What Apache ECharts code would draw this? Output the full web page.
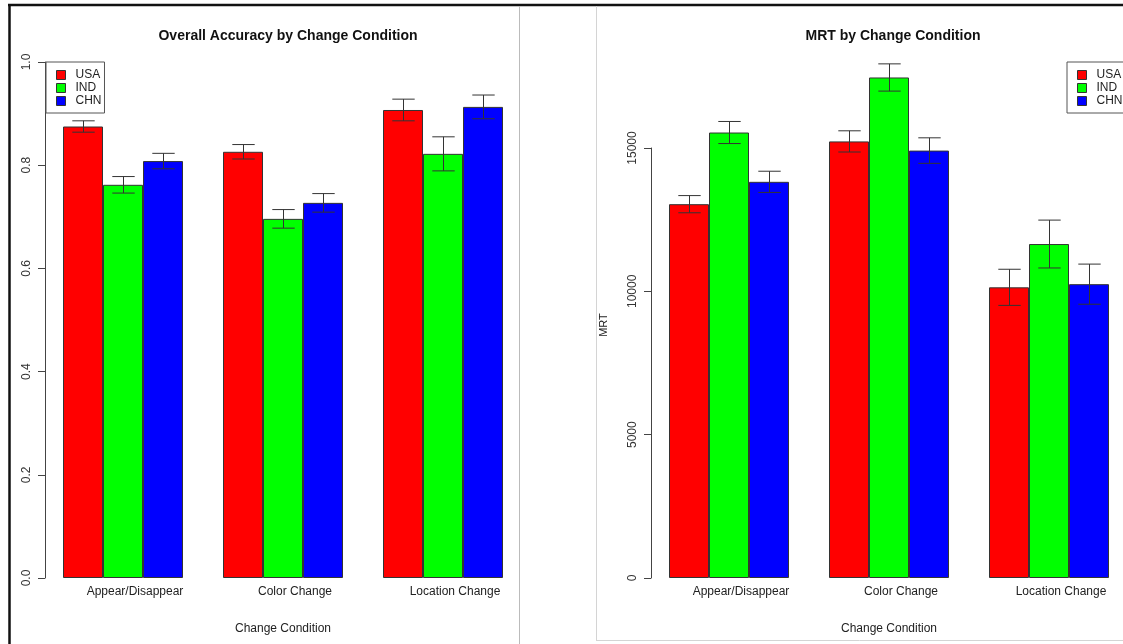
<!DOCTYPE html>
<html>
<head>
<meta charset="utf-8">
<script src="https://cdn.jsdelivr.net/npm/echarts@6/dist/echarts.min.js"></script>
<style>
	html, body { margin: 0; padding: 0; background: #fff; }
	#chart { width: 1123px; height: 644px; }
</style>
</head>
<body>
<div id="chart"></div>
<script>
var categories = ['Appear/Disappear', 'Color Change', 'Location Change'];
var countries  = ['USA', 'IND', 'CHN'];
var colors     = ['#FF0000', '#00FF00', '#0000FF'];

// Overall accuracy (mean, +/- error)
var accUSA    = [0.875, 0.826, 0.907];
var accIND    = [0.762, 0.696, 0.822];
var accCHN    = [0.808, 0.727, 0.913];
var accErrUSA = [0.011, 0.014, 0.021];
var accErrIND = [0.016, 0.018, 0.033];
var accErrCHN = [0.015, 0.018, 0.023];

// MRT (mean, +/- error)
var mrtUSA    = [13040, 15230, 10140];
var mrtIND    = [15540, 17460, 11650];
var mrtCHN    = [13820, 14910, 10250];
var mrtErrUSA = [300, 370, 630];
var mrtErrIND = [385, 475, 835];
var mrtErrCHN = [370, 445, 700];

var accTicks = [0, 0.2, 0.4, 0.6, 0.8, 1.0];
var mrtTicks = [0, 5000, 10000, 15000];

var FONT = "'Liberation Sans', Arial, sans-serif";

(function () {
	var chart = echarts.init(document.getElementById('chart'));

	function errSeries(k, gi, means, errs) {
		var data = [];
		for (var i = 0; i < means.length; i++) data.push([i, means[i], errs[i]]);
		return {
			type: 'custom', xAxisIndex: gi, yAxisIndex: gi, z: 5, silent: true,
			data: data,
			renderItem: function (params, api) {
				var band = api.size([1, 0])[0];
				var bw = band * 0.25;
				var off = (k - 1) * bw;
				var hi = api.coord([api.value(0), api.value(1) + api.value(2)]);
				var lo = api.coord([api.value(0), api.value(1) - api.value(2)]);
				var x = Math.round(hi[0] + off) + 0.5;
				var cap = bw * 0.28;
				var st = { stroke: '#333', lineWidth: 1 };
				return {
					type: 'group',
					children: [
						{ type: 'line', shape: { x1: x, y1: hi[1], x2: x, y2: lo[1] }, style: st },
						{ type: 'line', shape: { x1: x - cap, y1: hi[1], x2: x + cap, y2: hi[1] }, style: st },
						{ type: 'line', shape: { x1: x - cap, y1: lo[1], x2: x + cap, y2: lo[1] }, style: st }
					]
				};
			}
		};
	}

	function barSeries(k, gi, vals) {
		return {
			name: countries[k], type: 'bar', xAxisIndex: gi, yAxisIndex: gi,
			barGap: '0%', barCategoryGap: '25%', clip: false,
			itemStyle: { color: colors[k], borderColor: '#333', borderWidth: 1 },
			data: vals
		};
	}

	function xAxisOpt(gi) {
		return {
			type: 'category', gridIndex: gi, data: categories,
			axisLine: { show: false }, axisTick: { show: false },
			axisLabel: { fontFamily: FONT, fontSize: 12, color: '#222', margin: 8, padding: [0, 0, 0, 24] },
			name: 'Change Condition', nameLocation: 'middle', nameGap: 45,
			nameTextStyle: { fontFamily: FONT, fontSize: 12, color: '#222' }
		};
	}

	function yAxisOpt(gi, ticks, fmt) {
		return {
			type: 'value', gridIndex: gi,
			min: ticks[0], max: ticks[ticks.length - 1], interval: ticks[1] - ticks[0],
			offset: -2,
			splitLine: { show: false },
			axisLine: { show: true, lineStyle: { color: '#444', width: 1 } },
			axisTick: { show: true, length: 7, lineStyle: { color: '#444' } },
			axisLabel: { rotate: 90, margin: 12, fontFamily: FONT, fontSize: 12, color: '#333', formatter: fmt }
		};
	}

	var legendBase = {
		orient: 'vertical', data: countries, itemWidth: 9, itemHeight: 9, itemGap: 1,
		borderColor: '#555', borderWidth: 1, borderRadius: 0, backgroundColor: '#fff',
		padding: [7, 3, 6, 10], icon: 'rect', selectedMode: false,
		itemStyle: { borderColor: '#333', borderWidth: 1 },
		textStyle: { fontFamily: FONT, fontSize: 12, lineHeight: 12, color: '#222', padding: [0, 0, 0, 5] }
	};

	var series = [
		barSeries(0, 0, accUSA), barSeries(1, 0, accIND), barSeries(2, 0, accCHN),
		barSeries(0, 1, mrtUSA), barSeries(1, 1, mrtIND), barSeries(2, 1, mrtCHN),
		errSeries(0, 0, accUSA, accErrUSA), errSeries(1, 0, accIND, accErrIND), errSeries(2, 0, accCHN, accErrCHN),
		errSeries(0, 1, mrtUSA, mrtErrUSA), errSeries(1, 1, mrtIND, mrtErrIND), errSeries(2, 1, mrtCHN, mrtErrCHN)
	];

	chart.setOption({
		animation: false,
		backgroundColor: '#fff',
		title: [
			{ text: 'Overall Accuracy by Change Condition', left: 283, top: 24, textAlign: 'center',
			  textStyle: { fontFamily: FONT, fontSize: 14, fontWeight: 'bold', color: '#111' } },
			{ text: 'MRT by Change Condition', left: 888, top: 24, textAlign: 'center',
			  textStyle: { fontFamily: FONT, fontSize: 14, fontWeight: 'bold', color: '#111' } }
		],
		legend: [
			Object.assign({}, legendBase, { left: 46, top: 62 }),
			Object.assign({}, legendBase, { left: 1067, top: 62 })
		],
		grid: [
			{ left: 43, width: 480, top: 62, bottom: 66, outerBoundsMode: 'none', containLabel: false },
			{ left: 649, width: 480, top: 148, bottom: 66, outerBoundsMode: 'none', containLabel: false }
		],
		xAxis: [xAxisOpt(0), xAxisOpt(1)],
		yAxis: [
			yAxisOpt(0, accTicks, function (v) { return v.toFixed(1); }),
			yAxisOpt(1, mrtTicks, function (v) { return String(v); })
		],
		graphic: [
			{ type: 'line', shape: { x1: 8, y1: 5, x2: 1123, y2: 5 }, style: { stroke: '#111', lineWidth: 2.5 } },
			{ type: 'line', shape: { x1: 9.5, y1: 5, x2: 9.5, y2: 644 }, style: { stroke: '#111', lineWidth: 2.5 } },
			{ type: 'line', shape: { x1: 519.5, y1: 6, x2: 519.5, y2: 644 }, style: { stroke: '#bbb', lineWidth: 1 } },
			{ type: 'line', shape: { x1: 596.5, y1: 6, x2: 596.5, y2: 640.5 }, style: { stroke: '#d4d4d4', lineWidth: 1 } },
			{ type: 'line', shape: { x1: 596, y1: 640.5, x2: 1123, y2: 640.5 }, style: { stroke: '#d4d4d4', lineWidth: 1 } },
			{ type: 'text', x: 604, y: 325, rotation: Math.PI / 2,
			  style: { text: 'MRT', fontFamily: FONT, fontSize: 11, fill: '#222', align: 'center', verticalAlign: 'middle' } }
		],
		series: series
	});
})();
</script>
</body>
</html>
